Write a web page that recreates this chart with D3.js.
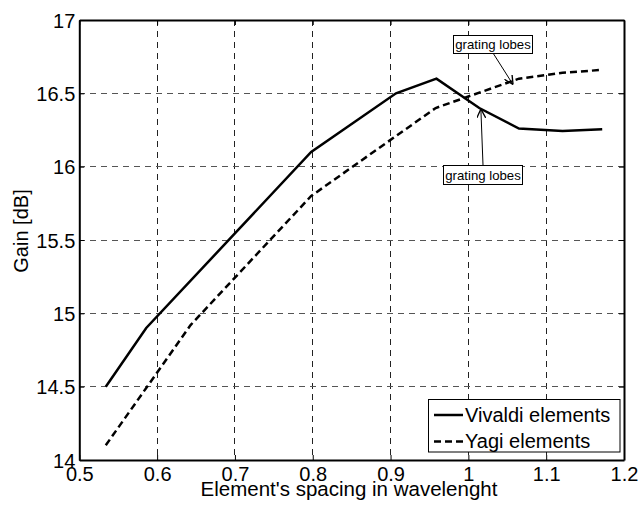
<!DOCTYPE html>
<html><head><meta charset="utf-8">
<script src="https://cdn.jsdelivr.net/npm/d3@7"></script>
<style>body{margin:0;background:#fff;font-family:"Liberation Sans",Arial,sans-serif;}</style>
</head><body><svg id="c" width="638" height="507"></svg>
<script>
const vivaldiX = [0.534, 0.586, 0.798, 0.907, 0.959, 1.014, 1.065, 1.121, 1.172];
const vivaldiY = [14.5, 14.9, 16.1, 16.5, 16.6, 16.4, 16.26, 16.243, 16.255];
const yagiX = [0.534, 0.643, 0.798, 0.958, 1.065, 1.121, 1.172];
const yagiY = [14.1, 14.92, 15.8, 16.4, 16.6, 16.64, 16.66];
const xTicks = [0.5, 0.6, 0.7, 0.8, 0.9, 1, 1.1, 1.2];
const yTicks = [14, 14.5, 15, 15.5, 16, 16.5, 17];
const seriesNames = ["Vivaldi elements", "Yagi elements"];

const svg = d3.select("#c");
const L = 79.3, R = 624, T = 20, B = 460;
const x = d3.scaleLinear().domain([0.5, 1.2]).range([L, R]);
const y = d3.scaleLinear().domain([14, 17]).range([B, T]);
const FF = "Liberation Sans, Arial, sans-serif";

// grid
const g = svg.append("g");
xTicks.slice(1, -1).forEach(t => g.append("line").attr("x1", x(t)).attr("x2", x(t)).attr("y1", T).attr("y2", B)
  .attr("stroke", "#222").attr("stroke-width", 1).attr("stroke-dasharray", "6,5").attr("shape-rendering","crispEdges"));
yTicks.slice(1, -1).forEach(t => g.append("line").attr("x1", L).attr("x2", R).attr("y1", y(t)).attr("y2", y(t))
  .attr("stroke", "#555").attr("stroke-width", 1).attr("stroke-dasharray", "6,5").attr("shape-rendering","crispEdges"));

// axes
const xa = svg.append("g").attr("transform", `translate(0,${B})`)
  .call(d3.axisBottom(x).tickValues(xTicks).tickFormat(d3.format("")).tickSizeInner(-5).tickSizeOuter(0));
const xa2 = svg.append("g").attr("transform", `translate(0,${T})`)
  .call(d3.axisTop(x).tickValues(xTicks).tickFormat("").tickSizeInner(-5).tickSizeOuter(0));
const ya = svg.append("g").attr("transform", `translate(${L},0)`)
  .call(d3.axisLeft(y).tickValues(yTicks).tickFormat(d3.format("")).tickSizeInner(-5).tickSizeOuter(0));
const ya2 = svg.append("g").attr("transform", `translate(${R},0)`)
  .call(d3.axisRight(y).tickValues(yTicks).tickFormat("").tickSizeInner(-5).tickSizeOuter(0));
[xa, xa2, ya, ya2].forEach(a => {
  a.selectAll(".domain").attr("stroke", "#000").attr("stroke-width", 2);
  a.selectAll("line").attr("stroke", "#000");
  a.selectAll("text").attr("font-family", FF).attr("font-size", 20).attr("fill", "#000");
});
xa.selectAll("text").attr("y", 21).attr("dy", 0);
ya.selectAll("text").attr("x", -4).attr("dy", "0.36em");

// lines
const line = d3.line().x(d => x(d[0])).y(d => y(d[1]));
svg.append("path").datum(vivaldiX.map((v, i) => [v, vivaldiY[i]])).attr("d", line)
  .attr("fill", "none").attr("stroke", "#000").attr("stroke-width", 2.5);
svg.append("path").datum(yagiX.map((v, i) => [v, yagiY[i]])).attr("d", line)
  .attr("fill", "none").attr("stroke", "#000").attr("stroke-width", 2.5).attr("stroke-dasharray", "7,4");

// labels
svg.append("text").attr("x", 349).attr("y", 496).attr("text-anchor", "middle")
  .attr("font-size", 20.5).attr("font-family", FF).text("Element's spacing in wavelenght");
svg.append("text").attr("transform", "translate(28,231) rotate(-90)").attr("text-anchor", "middle")
  .attr("font-size", 20).attr("font-family", FF).text("Gain [dB]");

// annotations
svg.append("defs").append("marker").attr("id", "ah").attr("viewBox", "0 0 10 10").attr("refX", 10).attr("refY", 5)
  .attr("markerWidth", 9).attr("markerHeight", 9).attr("markerUnits", "userSpaceOnUse").attr("orient", "auto")
  .append("path").attr("d", "M0,0 L10,5 L0,10").attr("fill", "none").attr("stroke", "#000").attr("stroke-width", 1.5);
function ann(bx, by, bw, bh, x1, y1, x2, y2) {
  svg.append("line").attr("x1", x1).attr("y1", y1).attr("x2", x2).attr("y2", y2)
    .attr("stroke", "#000").attr("stroke-width", 1).attr("marker-end", "url(#ah)");
  svg.append("rect").attr("x", bx).attr("y", by).attr("width", bw).attr("height", bh)
    .attr("fill", "#fff").attr("stroke", "#000").attr("stroke-width", 1);
  svg.append("text").attr("x", bx + bw / 2).attr("y", by + bh / 2 + 4.5).attr("text-anchor", "middle")
    .attr("font-size", 13.2).attr("font-family", FF).text("grating lobes");
}
ann(453.5, 35.5, 79, 18, 493, 53, x(1.06) - 2, y(16.58) + 3);
ann(443.5, 165.5, 79, 19, 483, 165, x(1.0) + 12.5, y(16.4) + 1);

// legend
const lg = svg.append("g");
lg.append("rect").attr("x", 428.5).attr("y", 399.5).attr("width", 191.5).attr("height", 52.5)
  .attr("fill", "#fff").attr("stroke", "#000").attr("stroke-width", 1);
seriesNames.forEach((n, i) => {
  const yy = 415 + i * 26.5;
  lg.append("line").attr("x1", 434).attr("x2", 463).attr("y1", yy).attr("y2", yy)
    .attr("stroke", "#000").attr("stroke-width", 2.5).attr("stroke-dasharray", i ? "7,4" : null);
  lg.append("text").attr("x", 465).attr("y", yy + 6.8).attr("font-size", 20).attr("font-family", FF).text(n);
});
</script></body></html>
